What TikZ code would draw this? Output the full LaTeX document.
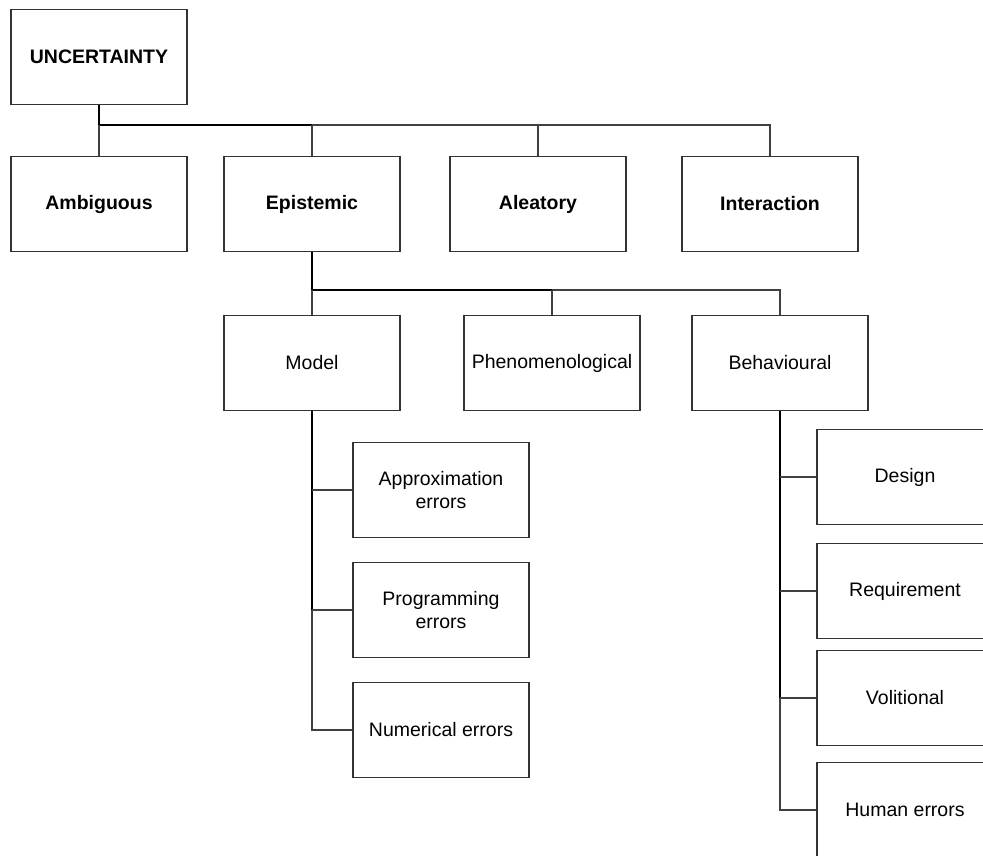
\documentclass[tikz,border=0pt]{standalone}
\usepackage{fontspec}
\setmainfont{Liberation Sans}
\usepackage{tikz}

\begin{document}
\begin{tikzpicture}[x=1pt,y=-1pt,
    box/.style={draw=black!80,line width=1.1pt,fill=white,minimum width=176pt,
      minimum height=95pt,inner sep=0pt,align=center,
      font=\fontsize{19.5}{22.5}\selectfont},
    topbox/.style={box,font=\fontsize{19.5}{22.5}\selectfont\bfseries},
    trunk/.style={draw=black,line width=1.5pt},
    branch/.style={draw=black!75,line width=1.1pt}]
  \useasboundingbox (0,0) rectangle (983,855);
  \clip (0,0) rectangle (983,855);

  % top
  \node[topbox] (unc) at (99,57) {UNCERTAINTY};

  \node[topbox] (amb) at (99,204) {Ambiguous};
  \node[topbox] (epi) at (312,204) {Epistemic};
  \node[topbox] (ale) at (538,204) {Aleatory};
  \node[topbox] (inter) at (770,204) {Interaction};

  \coordinate (j1) at (unc.south |- 0,125);
  \draw[trunk] (unc.south) -- (j1) -- (epi.north |- j1);
  \draw[branch] (j1) -- (amb.north);
  \draw[branch] (epi.north |- j1) -- (epi.north);
  \draw[branch] (epi.north |- j1) -| (ale.north);
  \draw[branch] (epi.north |- j1) -| (inter.north);

  % epistemic
  \node[box] (model) at (312,363) {Model};
  \node[box] (phen) at (552,363) {Phenomenological};
  \node[box] (beh) at (780,363) {Behavioural};

  \coordinate (j2) at (epi.south |- 0,290);
  \draw[trunk] (epi.south) -- (j2) -- (phen.north |- j2);
  \draw[branch] (j2) -- (model.north);
  \draw[branch] (phen.north |- j2) -- (phen.north);
  \draw[branch] (phen.north |- j2) -| (beh.north);

  % model
  \node[box] (appr) at (441,490) {Approximation\\errors};
  \node[box] (prog) at (441,610) {Programming\\errors};
  \node[box] (num) at (441,730) {Numerical errors};

  \draw[trunk] (model.south) -- (model.south |- prog.west);
  \draw[branch] (model.south |- prog.west) |- (num.west);
  \draw[branch] (model.south |- appr.west) -- (appr.west);
  \draw[branch] (model.south |- prog.west) -- (prog.west);

  % behavioural
  \node[box] (design) at (905,477) {Design};
  \node[box] (req) at (905,591) {Requirement};
  \node[box] (vol) at (905,698) {Volitional};
  \node[box] (human) at (905,810) {Human errors};

  \draw[trunk] (beh.south) -- (beh.south |- vol.west);
  \draw[branch] (beh.south |- vol.west) |- (human.west);
  \draw[branch] (beh.south |- design.west) -- (design.west);
  \draw[branch] (beh.south |- req.west) -- (req.west);
  \draw[branch] (beh.south |- vol.west) -- (vol.west);
\end{tikzpicture}
\end{document}
